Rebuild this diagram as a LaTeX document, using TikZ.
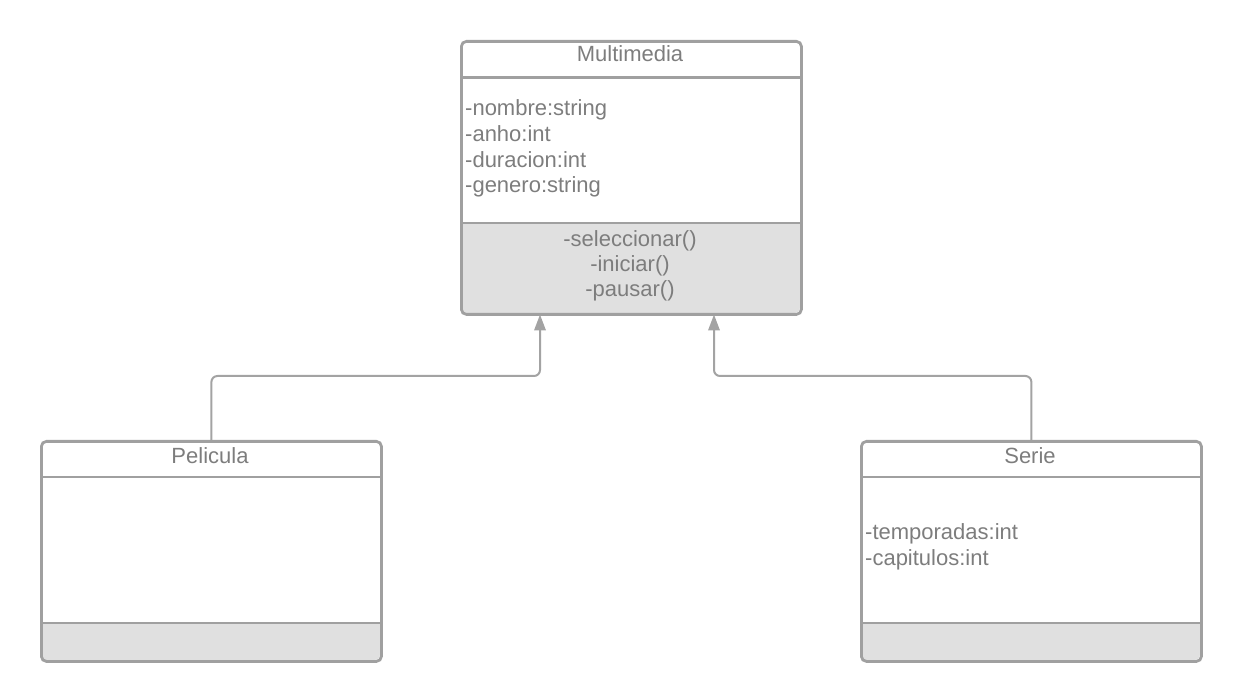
\documentclass[tikz,border=0pt]{standalone}
\usepackage{fontspec}
\setmainfont{Liberation Sans}
\usetikzlibrary{arrows.meta}
\definecolor{bordergray}{RGB}{160,160,160}
\definecolor{textgray}{RGB}{125,125,125}
\definecolor{fillgray}{RGB}{224,224,224}
\definecolor{conngray}{RGB}{163,163,163}
\begin{document}
\begin{tikzpicture}[x=1pt,y=-1pt,
  classbox/.style={draw=bordergray, line width=2.8pt, rounded corners=5pt, inner sep=0pt, anchor=north west},
  sepline/.style={draw=bordergray, line width=2.8pt},
  txt/.style={text=textgray, inner sep=0pt, font=\fontsize{22}{27}\selectfont},
  conn/.style={draw=conngray, line width=2pt, rounded corners=6pt, -{Triangle[width=11.5pt,length=16pt]}}
]
\useasboundingbox (0,0) rectangle (1240,700);

% Multimedia
\begin{scope}
\clip[rounded corners=5pt] (460,40) rectangle (800,313);
\fill[fillgray] (460,223) rectangle (800,313);
\end{scope}
\node[classbox, minimum width=340pt, minimum height=273pt] (mm) at (460,40) {};
\draw[sepline] (460,77.5) -- (800,77.5);
\draw[sepline] (460,223) -- (800,223);
\node[txt, anchor=base] (mmtitle) at (630,62) {Multimedia};
\node[txt, anchor=base west] (a1) at (465,116) {-nombre:string};
\node[txt, anchor=base west] (a2) at (465,141.5) {-anho:int};
\node[txt, anchor=base west] (a3) at (465,167.5) {-duracion:int};
\node[txt, anchor=base west] (a4) at (465,193) {-genero:string};
\node[txt, anchor=base] (m1) at (630,246.5) {-seleccionar()};
\node[txt, anchor=base] (m2) at (630,272) {-iniciar()};
\node[txt, anchor=base] (m3) at (630,297) {-pausar()};

% Pelicula
\begin{scope}
\clip[rounded corners=5pt] (40,440) rectangle (380,660);
\fill[fillgray] (40,623) rectangle (380,660);
\end{scope}
\node[classbox, minimum width=340pt, minimum height=220pt] (pel) at (40,440) {};
\draw[sepline] (40,477) -- (380,477);
\draw[sepline] (40,623) -- (380,623);
\node[txt, anchor=base] (peltitle) at (210,463.5) {Pelicula};

% Serie
\begin{scope}
\clip[rounded corners=5pt] (860,440) rectangle (1200,660);
\fill[fillgray] (860,623) rectangle (1200,660);
\end{scope}
\node[classbox, minimum width=340pt, minimum height=220pt] (ser) at (860,440) {};
\draw[sepline] (860,477) -- (1200,477);
\draw[sepline] (860,623) -- (1200,623);
\node[txt, anchor=base] (sertitle) at (1030,463.5) {Serie};
\node[txt, anchor=base west] (s1) at (865,539.5) {-temporadas:int};
\node[txt, anchor=base west] (s2) at (865,565) {-capitulos:int};

% Connectors
\coordinate (mmA) at (540,314.5);
\coordinate (mmB) at (714,314.5);
\draw[conn] (pel.north) -- ++(0,-64) -| (mmA);
\draw[conn] (ser.north) -- ++(0,-64) -| (mmB);
\end{tikzpicture}
\end{document}
